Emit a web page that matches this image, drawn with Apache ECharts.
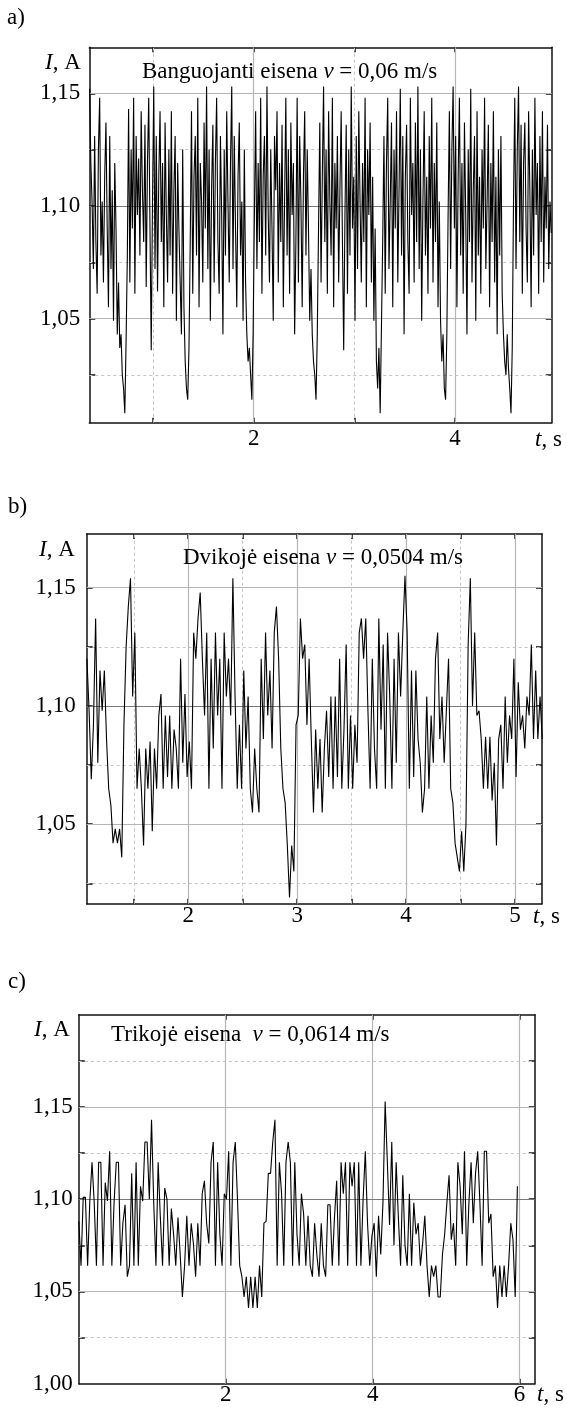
<!DOCTYPE html>
<html><head><meta charset="utf-8">
<script src="https://cdn.jsdelivr.net/npm/echarts@6/dist/echarts.min.js"></script>
<style>html,body{margin:0;padding:0;background:#fff}#c{width:567px;height:1409px}</style>
</head><body><div id="c"></div>
<script>
// ---------- DATA ----------
// Panel a) Banguojanti eisena, sampling start / step (s)
const startA = 0.37, stepA = 0.0125;
const currentA = [
1.152,1.119,1.101,1.072,1.131,1.084,1.061,1.125,1.148,1.078,1.102,1.066,1.113,1.137,1.090,1.055,
1.131,1.072,1.107,1.049,1.119,1.090,1.043,1.066,1.037,1.043,1.025,1.019,1.008,1.040,1.078,1.143,
1.066,1.125,1.090,1.148,1.061,1.131,1.096,1.121,1.078,1.142,1.107,1.084,1.136,1.064,1.119,1.148,
1.090,1.036,1.102,1.153,1.072,1.131,1.062,1.113,1.142,1.084,1.119,1.055,1.137,1.096,1.066,1.125,
1.078,1.142,1.061,1.107,1.131,1.049,1.119,1.090,1.066,1.043,1.125,1.055,1.031,1.019,1.014,1.037,
1.084,1.142,1.061,1.113,1.131,1.078,1.148,1.055,1.119,1.102,1.066,1.137,1.090,1.153,1.072,1.125,
1.049,1.108,1.136,1.066,1.119,1.148,1.084,1.061,1.131,1.096,1.043,1.125,1.078,1.142,1.102,1.066,
1.119,1.153,1.072,1.131,1.090,1.055,1.113,1.137,1.078,1.102,1.049,1.125,1.066,1.043,1.031,1.037,
1.025,1.014,1.043,1.096,1.142,1.072,1.119,1.084,1.148,1.061,1.113,1.131,1.078,1.153,1.096,1.066,
1.125,1.090,1.049,1.131,1.107,1.142,1.066,1.119,1.084,1.136,1.055,1.102,1.148,1.078,1.125,1.061,
1.137,1.096,1.119,1.043,1.084,1.148,1.066,1.131,1.102,1.055,1.113,1.142,1.078,1.125,1.090,1.049,
1.072,1.043,1.031,1.025,1.014,1.043,1.090,1.137,1.066,1.113,1.153,1.084,1.125,1.061,1.142,1.102,
1.078,1.148,1.055,1.119,1.090,1.131,1.066,1.107,1.142,1.084,1.036,1.096,1.136,1.061,1.125,1.078,
1.153,1.090,1.113,1.049,1.131,1.072,1.142,1.102,1.066,1.119,1.084,1.148,1.055,1.125,1.096,1.137,
1.066,1.113,1.049,1.090,1.031,1.019,1.037,1.008,1.046,1.084,1.131,1.061,1.119,1.148,1.072,1.102,
1.137,1.055,1.125,1.090,1.142,1.066,1.107,1.152,1.078,1.131,1.043,1.113,1.136,1.084,1.061,1.148,
1.096,1.119,1.066,1.137,1.084,1.153,1.072,1.125,1.049,1.102,1.142,1.078,1.113,1.061,1.131,1.090,
1.148,1.066,1.119,1.084,1.137,1.055,1.102,1.049,1.031,1.043,1.019,1.014,1.043,1.096,1.142,1.072,
1.125,1.153,1.090,1.131,1.055,1.113,1.148,1.078,1.119,1.061,1.137,1.096,1.043,1.125,1.084,1.152,
1.066,1.107,1.131,1.049,1.142,1.078,1.113,1.061,1.125,1.090,1.148,1.072,1.102,1.136,1.055,1.119,
1.084,1.142,1.066,1.113,1.043,1.125,1.078,1.131,1.061,1.043,1.031,1.025,1.043,1.028,1.019,1.008,
1.037,1.102,1.148,1.072,1.125,1.153,1.084,1.136,1.061,1.119,1.137,1.090,1.066,1.142,1.107,1.055,
1.125,1.078,1.148,1.096,1.119,1.061,1.131,1.084,1.142,1.066,1.113,1.090,1.136,1.072,1.102,1.088
];
// Panel b) Dvikojė eisena
const startB = 1.07, stepB = 0.02;
const currentB = [
1.120,1.098,1.069,1.092,1.137,1.076,1.115,1.098,1.115,1.086,
1.065,1.058,1.042,1.048,1.042,1.048,1.036,1.092,1.125,1.142,
1.154,1.104,1.131,1.065,1.082,1.065,1.041,1.082,1.065,1.085,
1.047,1.082,1.065,1.096,1.105,1.065,1.096,1.070,1.096,1.065,
1.090,1.082,1.065,1.120,1.076,1.105,1.070,1.085,1.065,1.131,
1.120,1.137,1.148,1.120,1.096,1.131,1.065,1.120,1.082,1.131,
1.096,1.120,1.065,1.131,1.104,1.120,1.096,1.154,1.104,1.065,
1.092,1.065,1.115,1.082,1.104,1.065,1.055,1.082,1.065,1.055,
1.120,1.086,1.131,1.096,1.115,1.082,1.131,1.142,1.120,1.082,
1.065,1.059,1.041,1.019,1.041,1.030,1.092,1.096,1.137,1.120,
1.126,1.092,1.120,1.086,1.055,1.090,1.065,1.086,1.055,1.082,
1.098,1.070,1.104,1.065,1.104,1.070,1.120,1.065,1.090,1.126,
1.065,1.096,1.065,1.092,1.076,1.131,1.137,1.120,1.137,1.098,
1.065,1.120,1.082,1.065,1.137,1.090,1.126,1.065,1.131,1.104,
1.065,1.120,1.076,1.131,1.104,1.131,1.155,1.131,1.065,1.115,
1.070,1.115,1.086,1.076,1.055,1.065,1.104,1.065,1.096,1.076,
1.120,1.131,1.086,1.104,1.076,1.098,1.120,1.065,1.059,1.042,
1.036,1.030,1.047,1.030,1.050,1.126,1.154,1.100,1.131,1.096,
1.098,1.086,1.065,1.087,1.065,1.087,1.060,1.076,1.041,1.086,
1.092,1.065,1.104,1.076,1.096,1.086,1.120,1.070,1.110,1.090,
1.096,1.082,1.104,1.096,1.126,1.086,1.115,1.086,1.104,1.086
];
// Panel c) Trikojė eisena
const startC = 0.0, stepC = 0.03;
const currentC = [
1.088,1.064,1.101,1.101,1.064,1.099,1.120,1.098,1.064,1.120,
1.120,1.064,1.109,1.099,1.126,1.064,1.098,1.120,1.120,1.064,
1.087,1.097,1.058,1.064,1.114,1.064,1.120,1.064,1.107,1.099,
1.131,1.131,1.100,1.143,1.098,1.064,1.120,1.090,1.064,1.106,
1.100,1.064,1.095,1.081,1.064,1.090,1.070,1.047,1.064,1.091,
1.064,1.087,1.076,1.058,1.087,1.064,1.103,1.110,1.087,1.076,
1.120,1.131,1.064,1.120,1.081,1.064,1.103,1.100,1.126,1.064,
1.120,1.131,1.100,1.064,1.058,1.047,1.058,1.041,1.058,1.041,
1.058,1.041,1.064,1.047,1.087,1.088,1.114,1.114,1.131,1.143,
1.064,1.120,1.103,1.064,1.120,1.131,1.120,1.064,1.120,1.081,
1.064,1.103,1.092,1.064,1.091,1.064,1.058,1.087,1.070,1.058,
1.087,1.064,1.058,1.097,1.097,1.064,1.090,1.110,1.064,1.120,
1.103,1.120,1.064,1.120,1.107,1.120,1.064,1.120,1.064,1.100,
1.126,1.087,1.064,1.080,1.087,1.058,1.091,1.070,1.098,1.153,
1.120,1.086,1.131,1.075,1.120,1.090,1.064,1.113,1.075,1.064,
1.103,1.064,1.098,1.081,1.087,1.064,1.076,1.091,1.064,1.047,
1.064,1.058,1.064,1.047,1.047,1.070,1.081,1.098,1.113,1.078,
1.087,1.064,1.120,1.107,1.081,1.126,1.064,1.098,1.120,1.087,
1.114,1.126,1.098,1.064,1.126,1.126,1.087,1.092,1.058,1.064,
1.041,1.064,1.047,1.064,1.047,1.064,1.087,1.078,1.047,1.107
];
// tick / label values
const xLabelsA = [2, 4], xTicksA = [1, 2, 3, 4], xMajorA = [2, 4], xMinorA = [1, 3];
const xLabelsB = [2, 3, 4, 5], xTicksB = [1.5, 2, 2.5, 3, 3.5, 4, 4.5, 5], xMajorB = [2, 3, 4, 5], xMinorB = [1.5, 2.5, 3.5, 4.5];
const xLabelsC = [2, 4, 6], xTicksC = [2, 4, 6], xMajorC = [2, 4, 6], xMinorC = [];
const yLabelsAB = [1.05, 1.10, 1.15], yTicksAB = [1.025, 1.05, 1.075, 1.10, 1.125, 1.15];
const yMajorAB = [1.05, 1.15], yMinorAB = [1.025, 1.075, 1.125];
const yLabelsC = [1.00, 1.05, 1.10, 1.15], yTicksC = [1.025, 1.05, 1.075, 1.10, 1.125, 1.15, 1.175];
const yMajorC = [1.05, 1.15], yMinorC = [1.025, 1.075, 1.125, 1.175];
const refLine = 1.10;
const panelLetters = ['a)', 'b)', 'c)'];
const titleParts = [
  ['Banguojanti eisena ', 'v', ' = 0,06 m/s'],
  ['Dvikojė eisena ', 'v', ' = 0,0504 m/s'],
  ['Trikojė eisena  ', 'v', ' = 0,0614 m/s']
];

// ---------- CHART ----------
const FONT = "'Liberation Serif','Times New Roman',serif";
const FS = 23;
const panels = [
  { grid:{left:89.3, top:47.3, width:462.4, height:375.4}, x:[0.367,4.962], y:[1.0038,1.1704],
    start:startA, step:stepA, values:currentA, xl:xLabelsA, xt:xTicksA, xM:xMajorA, xm:xMinorA,
    yl:yLabelsAB, yt:yTicksAB, yM:yMajorAB, ym:yMinorAB, xMargin:5, yMargin:9,
    letter:[7,18], ia:[45,63], title:[142,72], ts:[535,440] },
  { grid:{left:86.7, top:534, width:455.3, height:369.7}, x:[1.068,5.248], y:[1.0164,1.1727],
    start:startB, step:stepB, values:currentB, xl:xLabelsB, xt:xTicksB, xM:xMajorB, xm:xMinorB,
    yl:yLabelsAB, yt:yTicksAB, yM:yMajorAB, ym:yMinorAB, xMargin:1, yMargin:11,
    letter:[8,507], ia:[39,550], title:[183,558], ts:[533,917] },
  { grid:{left:78.8, top:1014.7, width:456, height:369}, x:[0,6.207], y:[1.0,1.2],
    start:startC, step:stepC, values:currentC, xl:xLabelsC, xt:xTicksC, xM:xMajorC, xm:xMinorC,
    yl:yLabelsC, yt:yTicksC, yM:yMajorC, ym:yMinorC, xMargin:0, yMargin:6,
    letter:[8,982], ia:[34,1030], title:[111,1035], ts:[537,1395] }
];

const grids = [], xAxes = [], yAxes = [], series = [], graphics = [];
const axisLineStyle = {color:'#111', width:1.5};
const labelStyle = {fontFamily:FONT, fontSize:FS, color:'#000'};
const rich = {
  n:{fontFamily:FONT, fontSize:FS, fill:'#000'},
  i:{fontFamily:FONT, fontSize:FS, fill:'#000', fontStyle:'italic'}
};
function txt(x, y, text) {
  return {type:'text', x:x, y:y, z:100, silent:true,
    style:{text:text, rich:rich, fontFamily:FONT, fontSize:FS, fill:'#000', align:'left', verticalAlign:'middle'}};
}

panels.forEach((p, k) => {
  grids.push(Object.assign({show:false, containLabel:false}, p.grid));
  const xb = {type:'value', gridIndex:k, min:p.x[0], max:p.x[1], position:'bottom',
    axisLine:{show:true, onZero:false, lineStyle:axisLineStyle},
    axisTick:{show:true, inside:true, length:5, customValues:p.xt, lineStyle:axisLineStyle},
    axisLabel:{show:true, customValues:p.xl, margin:p.xMargin, ...labelStyle, formatter:v => String(Math.round(v))},
    splitLine:{show:false}};
  const xt = {type:'value', gridIndex:k, min:p.x[0], max:p.x[1], position:'top',
    axisLine:{show:true, onZero:false, lineStyle:axisLineStyle},
    axisTick:{show:true, inside:true, length:5, customValues:p.xt, lineStyle:axisLineStyle},
    axisLabel:{show:false}, splitLine:{show:false}};
  const yl = {type:'value', gridIndex:k, min:p.y[0], max:p.y[1], position:'left',
    axisLine:{show:true, onZero:false, lineStyle:axisLineStyle},
    axisTick:{show:true, inside:true, length:6, customValues:p.yt, lineStyle:axisLineStyle},
    axisLabel:{show:true, customValues:p.yl, margin:p.yMargin, ...labelStyle, formatter:v => v.toFixed(2).replace('.', ',')},
    splitLine:{show:false}};
  const yr = {type:'value', gridIndex:k, min:p.y[0], max:p.y[1], position:'right',
    axisLine:{show:true, onZero:false, lineStyle:axisLineStyle},
    axisTick:{show:true, inside:true, length:6, customValues:p.yt, lineStyle:axisLineStyle},
    axisLabel:{show:false}, splitLine:{show:false}};
  xAxes.push(xb, xt); yAxes.push(yl, yr);
  const xi = 2*k, yi = 2*k;

  const solid = {color:'#b5b5b5', width:1.2, type:'solid'};
  const dashed = {color:'#c4c4c4', width:1, type:[3,3]};
  const mlData = [];
  p.xM.forEach(v => mlData.push({xAxis:v, lineStyle:solid}));
  p.xm.forEach(v => mlData.push({xAxis:v, lineStyle:dashed}));
  p.yM.forEach(v => mlData.push({yAxis:v, lineStyle:solid}));
  p.ym.forEach(v => mlData.push({yAxis:v, lineStyle:dashed}));
  mlData.push({yAxis:refLine, lineStyle:{color:'#7a7a7a', width:1.2, type:'solid'}});
  series.push({type:'line', xAxisIndex:xi, yAxisIndex:yi, data:[], z:1, silent:true,
    markLine:{silent:true, precision:6, symbol:['none','none'], z:1, animation:false, label:{show:false}, data:mlData}});

  const pts = p.values.map((v, i) => [p.start + i*p.step, v]);
  series.push({type:'line', xAxisIndex:xi, yAxisIndex:yi, data:pts, z:5, showSymbol:false, symbol:'none',
    lineStyle:{color:'#000', width:1.1}, clip:true, animation:false});

  const tp = titleParts[k];
  graphics.push(txt(p.letter[0], p.letter[1], '{n|' + panelLetters[k] + '}'));
  graphics.push(txt(p.ia[0], p.ia[1], '{i|I}{n|, A}'));
  graphics.push(txt(p.title[0], p.title[1], '{n|' + tp[0] + '}{i|' + tp[1] + '}{n|' + tp[2] + '}'));
  graphics.push(txt(p.ts[0], p.ts[1], '{i|t}{n|, s}'));
});

const chart = echarts.init(document.getElementById('c'), null, {renderer:'canvas', width:567, height:1409});
chart.setOption({
  animation:false, backgroundColor:'#fff',
  grid:grids, xAxis:xAxes, yAxis:yAxes, series:series, graphic:graphics
});
</script></body></html>
